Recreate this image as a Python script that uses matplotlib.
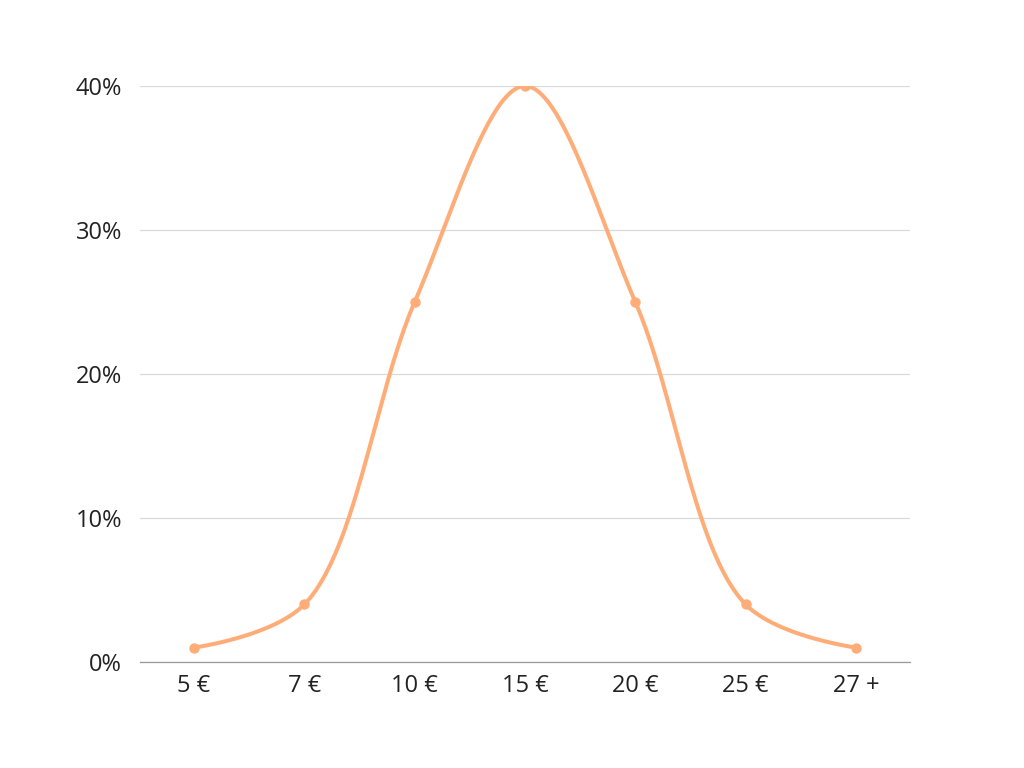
import numpy as np
import matplotlib
matplotlib.use("Agg")
import matplotlib.pyplot as plt

categories = ["5 €", "7 €", "10 €", "15 €", "20 €", "25 €", "27 +"]
values = [1, 4, 25, 40, 25, 4, 1]
y_ticks = [0, 10, 20, 30, 40]

plt.rcParams['font.family'] = ['Open Sans', 'DejaVu Sans']

def catmull_rom_centripetal(pts, alpha=0.5, n=80):
    """d3.curveCatmullRom-style (centripetal) spline in pixel space."""
    pts = np.asarray(pts, float)
    N = len(pts)
    eps = 1e-12
    out = []
    for i in range(N - 1):
        p1, p2 = pts[i], pts[i+1]
        p0 = pts[i-1] if i > 0 else None
        p3 = pts[i+2] if i + 2 < N else None
        l12_2a = np.hypot(*(p2 - p1)) ** (2 * alpha)
        l12_a = np.sqrt(l12_2a)
        c1 = p1.copy()
        if p0 is not None:
            l01_2a = np.hypot(*(p1 - p0)) ** (2 * alpha)
            l01_a = np.sqrt(l01_2a)
            if l01_a > eps:
                a = 2 * l01_2a + 3 * l01_a * l12_a + l12_2a
                nn = 3 * l01_a * (l01_a + l12_a)
                c1 = (p1 * a - p0 * l12_2a + p2 * l01_2a) / nn
        c2 = p2.copy()
        if p3 is not None:
            l23_2a = np.hypot(*(p3 - p2)) ** (2 * alpha)
            l23_a = np.sqrt(l23_2a)
            if l23_a > eps:
                b = 2 * l23_2a + 3 * l23_a * l12_a + l12_2a
                m = 3 * l23_a * (l23_a + l12_a)
                c2 = (p2 * b + p1 * l23_2a - p3 * l12_2a) / m
        t = np.linspace(0, 1, n)[:, None]
        seg = ((1-t)**3)*p1 + 3*((1-t)**2)*t*c1 + 3*(1-t)*t**2*c2 + t**3*p2
        out.append(seg)
    return np.vstack(out)

fig = plt.figure(figsize=(10.24, 7.68), dpi=100)
ax = fig.add_axes([140/1024, 106/768, 770/1024, 576/768])

xi = np.arange(len(categories))
ax.set_xlim(-0.49, 6.49)
ax.set_ylim(0, 40)

color = '#FFAD78'
pix = ax.transData.transform(np.column_stack([xi, values]))
curve_pix = catmull_rom_centripetal(pix)
curve = ax.transData.inverted().transform(curve_pix)
ax.plot(curve[:, 0], curve[:, 1], color=color, lw=2.9, solid_capstyle='round',
        solid_joinstyle='round', zorder=3)
ax.plot(xi, values, 'o', color=color, ms=6.5, zorder=4)

ax.set_yticks(y_ticks)
ax.set_yticklabels([f"{v}%" for v in y_ticks])
ax.set_xticks(xi)
ax.set_xticklabels(categories)
ax.yaxis.grid(True, color='#D9D9D9', lw=0.9)
ax.set_axisbelow(True)
for s in ['top', 'right', 'left']:
    ax.spines[s].set_visible(False)
ax.spines['bottom'].set_color('#999999')
ax.spines['bottom'].set_linewidth(0.9)
ax.tick_params(axis='both', length=0, labelsize=17, labelcolor='#222222')
ax.tick_params(axis='y', pad=13)
ax.tick_params(axis='x', pad=9)

fig.savefig("out.png", dpi=100)
